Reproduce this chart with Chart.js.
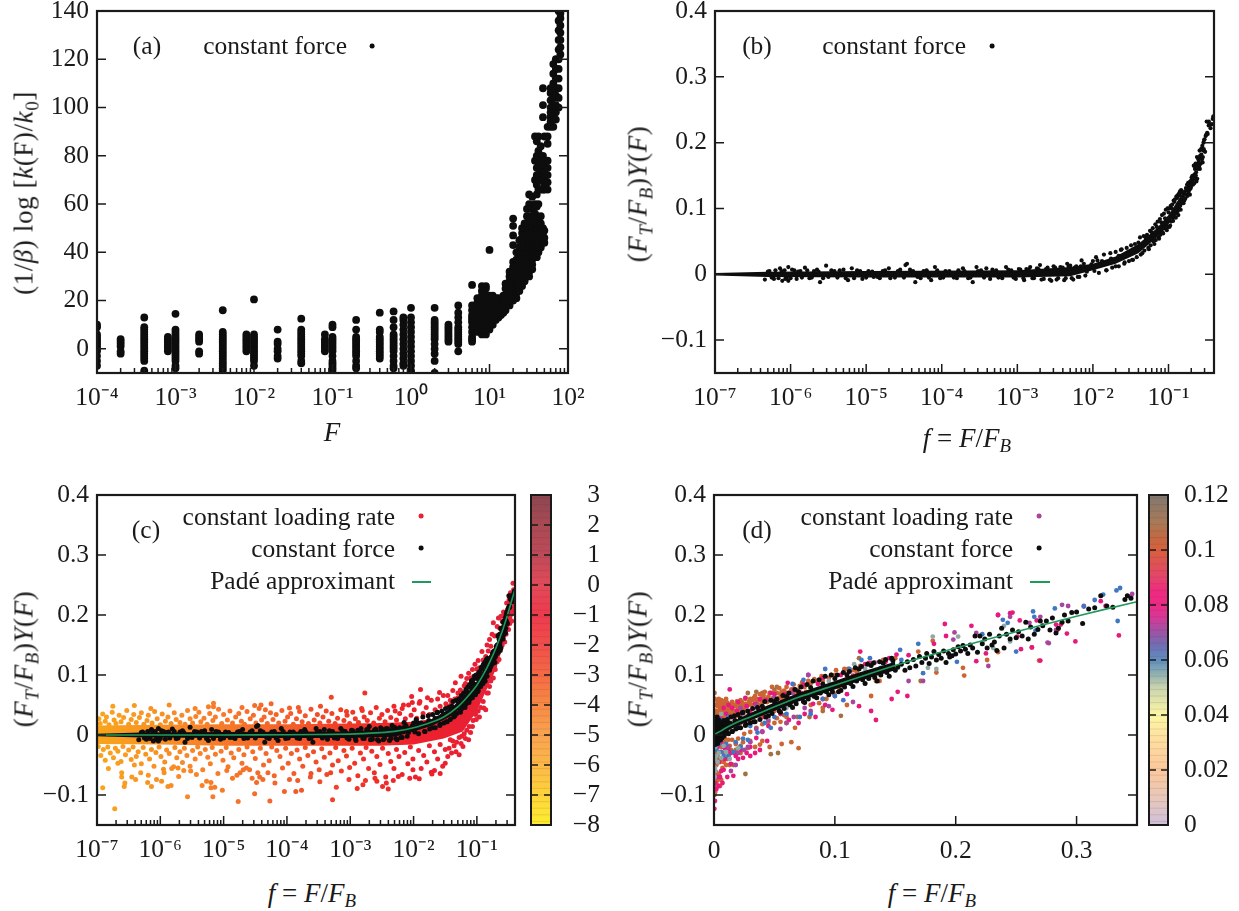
<!DOCTYPE html>
<html>
<head>
<meta charset="utf-8">
<title>force panels</title>
<script src="https://cdn.jsdelivr.net/npm/chart.js@4"></script>
<style>
  html, body { margin: 0; padding: 0; background: #fff; }
  #page { position: relative; width: 1239px; height: 911px; overflow: hidden; font-family: "Liberation Serif", serif; font-size: 25.5px; color: #1a1a1a; }
  canvas { position: absolute; }
  .lab { position: absolute; white-space: nowrap; line-height: 1; }
  .center { transform: translate(-50%, -50%); }
  .right { transform: translate(-100%, -50%); }
  .rot { transform: translate(-50%, -50%) rotate(-90deg); font-size: 27px; letter-spacing: 0.6px; }
  .big { font-size: 27px; }
  .lab sub { font-size: 70%; vertical-align: -0.3em; line-height: 0; }
  .dot { position: absolute; border-radius: 50%; transform: translate(-50%, -50%); }
  .dash { position: absolute; height: 2px; background: #1f9a5c; }
</style>
</head>
<body>
<div id="page"></div>
<script>
// panel (a): force values and the log rate values seen in each vertical strip
const aForce = [1e-4,2e-4,4e-4,8e-4,1e-3,2e-3,4e-3,8e-3,1e-2,2e-2,4e-2,8e-2,.1,.2,.4,.6,.8,1,2,3,4,6,7,8,9,10,11,12,13,14,15,16,18,20,22,24,26,28,30,32,35,38,40,42,45,48,50,55,60,65,70,76,80];
const aRate = [
  [-7,-5,-3,-1,0,1,2,3,4,5,6,9,10],
  [-2,-1,1,2,3,4],
  [-10,-9,-5,-4,-3,-2,-1,0,1,2,3,4,5,6,7,8,9,13],
  [-1,0,1,2,3,4,5],
  [-8,-7,-5,-4,-3,-2,-1,0,1,2,3,4,5,6,7,8,14.5],
  [-2,-1,3,4,5,6],
  [-9,-8,-7,-6,-5,-4,-3,-2,-1,0,1,2,3,4,5,6,7,16],
  [-1,0,1,2,3,4,5,6],
  [-7,-5,-4,-3,-2,-1,0,1,2,3,4,5,6,20.5],
  [-4,-3,-1,0,2,3,8],
  [-6,-5,-3,-2,-1,0,1,2,3,4,5,6,7,8,12.5],
  [-1,0,1,2,3,4,6],
  [-9,-8,-7,-6,-5,-3,-1,0,1,2,3,4,5,9,10],
  [-8,-7,-5,-3,-2,-1,0,1,2,3,4,5,8,12],
  [-4,-3,-2,-1,0,1,2,3,4,5,7,8,15],
  [-8,-7,-5,-3,-1,0,1,2,3,4,5,6,9,12,15.5],
  [-7,-6,-4,-2,0,2,4,6,8,10,12,13],
  [-10,-9,-7,-5,-3,-1,1,3,5,7,9,11,13,17],
  [-10,-5,-2,0,2,4,5,6,7,8,9,10,11,12,17],
  [3,4,5,6,7,8,9,10],
  [-1,2,3,4,5,6,7,8,9,11,13,15,18],
  [3,4,5,7,9,11,12,13,14,16,18,26.5],
  [7,9,11,13,15,17,19,21],
  [6,8,10,12,14,16,18,20,22,24,26],
  [6,8,10,12,14,16,18,20,22,25,26],
  [8,10,12,14,16,18,20,22,41],
  [10,12,14,16,18,20,22],
  [12,14,16,18,20,21],
  [13,15,17,19,21],
  [14,16,18,20],
  [15,17,19,21,22],
  [16,18,20,22,25,27],
  [18,20,22,24,26,28,30,32],
  [20,22,24,26,28,30,32,34,36,43,47,51,54],
  [21,23,25,27,29,31,33,35,37,40],
  [24,26,28,30,32,34,36,38,40,42,45],
  [26,28,30,32,34,36,38,40,42,44,46,48,50],
  [28,30,32,34,36,38,40,42,44,46,48,50,52],
  [30,32,34,36,38,40,42,44,46,48,50,52,55,58],
  [30,32,34,36,38,40,42,44,46,48,50,55,60,64],
  [33,35,37,39,41,43,45,47,49,51,53,55,58,63],
  [38,40,42,44,46,48,50,52,54,56,60,70,78,88],
  [38,40,42,44,46,48,50,52,55,59,64,68,72,75,80,86],
  [40,42,44,46,48,50,52,54,60,66,72,76,82,88],
  [42,44,46,48,50,52,55,66,70,74,78,84],
  [44,46,48,50,66,70,74,77,80,96,101,108],
  [44,46,49,66,68,70,72,74,76,78,88],
  [66,69,72,75,78,85,88,92],
  [92,94,96,98,100,103,106,108],
  [92,95,97,99,101,104,107,110,114,118],
  [95,98,101,105,108,112,116,120],
  [100,104,108,112,116,120,124,128,132,136,140],
  [122,125,128,131,134,137,139]
];
const aXRange = [1e-4, 100];
const aYTicks = [0,20,40,60,80,100,120,140];

// shared y ticks for (b), (c), (d)
const fYTicks = [-0.1,0,0.1,0.2,0.3,0.4];

// constant force data: log10(f) and y for the low part, then f and y for the rising part
const forceLowLog = [[-6.34,-.008],[-6.14,.009],[-6.03,.011],[-6.11,-.01],[-6.03,-.01],[-5.81,.01],[-5.69,.005],[-5.61,-.012],[-5.53,.013],[-5.24,-.009],[-5.19,.009],[-4.9,-.004],[-4.7,.009],[-4.48,.014],[-4.46,.016],[-4.35,-.012],[-4.14,-.009],[-4.09,.011],[-3.72,.009],[-3.59,-.012],[-3.54,.011],[-3.41,.009],[-3.15,.011],[-2.91,-.009],[-2.83,.011],[-2.55,-.01],[-2.7,.014],[-2.34,.016],[-2.18,-.004],[-2.15,.021],[-1.94,.021],[-1.63,.037],
[-6.3,.004],[-6.25,-.005],[-6.2,.006],[-6.16,-.006],[-6.08,.006],[-6.05,-.005],[-5.98,.007],[-5.92,-.007],[-5.87,.005],[-5.75,-.006],[-5.65,.007],[-5.57,-.006],[-5.46,.006],[-5.38,-.005],[-5.3,.007],[-5.12,.006],[-5.05,-.007],[-4.97,.005],[-4.82,-.006],[-4.75,.006],[-4.62,-.005],[-4.55,.007],[-4.42,.007],[-4.28,-.006],[-4.2,.006],[-4.02,-.006],[-3.95,.005],[-3.84,-.005],[-3.78,.006],[-3.65,-.006],[-3.48,.006],[-3.36,-.007],[-3.28,.006],[-3.2,-.006],[-3.08,.006],[-3.02,-.007],[-2.96,.007],[-2.88,.008],[-2.78,-.006],[-2.74,.009],[-2.65,-.007],[-2.6,.01],[-2.52,.012],[-2.48,-.008],[-2.43,.011],[-2.38,-.009],[-2.3,.013],[-2.26,-.008],[-2.22,.012],[-2.12,.016],[-2.08,.004],[-2.02,.015],[-1.98,.005],[-1.88,.02],[-1.82,.006],[-1.76,.024],[-1.7,.012],[-1.66,.028],[-1.58,.018],[-1.54,.033],[-1.48,.022],
[-6.28,.005],[-6.22,-.007],[-6.12,.005],[-6.07,-.007],[-6,-.006],[-5.95,.006],[-5.9,.004],[-5.85,-.005],[-5.78,.006],[-5.72,-.005],[-5.63,.004],[-5.5,-.004],[-5.42,.005],[-5.35,.006],[-5.27,-.006],[-5.16,-.006],[-5.08,.005],[-5,-.005],[-4.92,.004],[-4.85,-.004],[-4.78,.005],[-4.68,-.006],[-4.58,.005],[-4.5,-.005],[-4.38,.005],[-4.32,-.004],[-4.24,.005],[-4.17,-.005],[-4.06,.006],[-3.98,-.005],[-3.9,.005],[-3.8,-.006],[-3.7,.005],[-3.62,-.005],[-3.52,.005],[-3.44,-.005],[-3.33,.007],[-3.25,-.005],[-3.12,.007],[-3.05,-.005],[-2.98,.008],[-2.92,-.006],[-2.85,.007],[-2.8,-.006],[-2.72,.008],[-2.68,-.008],[-2.62,.008],[-2.57,-.008],[-2.5,.01],[-2.46,-.006],[-2.4,.01],[-2.36,-.006],[-2.32,.012],[-2.28,-.006],[-2.24,.01],[-2.2,-.004],[-2.16,.012],[-2.1,-.002]];
const forceHigh = [[.01,.02],[.011,.026],[.012,.002],[.014,.03],[.015,.006],[.017,.032],[.018,.01],[.02,.034],[.022,.012],[.024,.038],[.026,.016],[.028,.04],[.03,.02],[.032,.044],[.034,.022],[.036,.046],[.038,.026],[.042,.056],[.043,.03],[.047,.058],[.048,.036],[.052,.06],[.054,.04],[.057,.066],[.058,.044],[.062,.07],[.063,.05],[.067,.076],[.068,.052],[.072,.08],[.074,.056],[.077,.084],[.078,.06],[.082,.09],[.083,.064],[.087,.092],[.088,.07],[.092,.098],[.093,.072],[.097,.1],[.098,.072],[.102,.1],[.103,.072],[.107,.104],[.108,.08],[.112,.106],[.113,.086],[.117,.112],[.118,.09],[.122,.114],[.123,.092],[.127,.118],[.128,.094],[.132,.12],[.133,.096],[.137,.122],[.138,.1],[.142,.126],[.143,.104],[.147,.128],[.15,.108],
[.04,.048],[.045,.032],[.05,.056],[.055,.038],[.06,.064],[.065,.046],[.07,.072],[.075,.054],[.08,.079],[.085,.062],[.09,.085],[.095,.067],[.1,.094],[.105,.074],[.11,.1],[.115,.081],[.12,.11],[.125,.086],[.13,.116],[.135,.09],[.14,.12],[.145,.098],[.148,.124],
[.152,.113],[.155,.118],[.158,.108],[.16,.122],[.162,.112],[.165,.126],[.167,.115],[.17,.131],[.172,.121],[.175,.128],[.176,.136],[.178,.119],[.18,.13],[.182,.139],[.184,.125],[.186,.134],[.188,.128],[.19,.14],[.192,.121],[.194,.136],[.195,.13],[.197,.132],[.198,.142],[.2,.135],[.202,.147],[.204,.14],[.206,.149],[.208,.143],[.21,.136],[.212,.15],[.214,.145],[.216,.165],[.218,.138],[.22,.165],[.222,.152],[.224,.16],[.226,.145],[.228,.168],[.23,.15],[.232,.155],[.234,.141],[.236,.165],[.238,.178],[.24,.145],[.242,.168],[.245,.16],[.247,.175],[.25,.162],[.252,.172],[.255,.165],[.258,.188],[.26,.16],[.262,.18],[.265,.168],[.268,.176],[.27,.19],[.272,.182],[.275,.19],[.278,.175],[.28,.195],[.283,.17],[.285,.178],[.288,.188],[.29,.2],[.293,.19],[.296,.204],[.3,.205],[.305,.186],[.31,.21],[.315,.212],[.32,.232],[.325,.215],[.33,.213],[.34,.226],[.342,.232],[.345,.228],[.36,.222],[.375,.228],[.385,.236],[.392,.24]];
// black blob seen close to f = 0 in (d)
const forceNearZero = [[.0008,.02],[.0012,-.013],[.002,.022],[.003,-.014],[.004,.025],[.0015,.012],[.0006,-.009],[.005,.018],[.006,-.006],[.008,.024],[.009,.002],[.0025,.03],[.0005,.026],[.001,-.016]];
// dense core of the constant force cloud
const forceBandF = [1e-7,5e-7,1e-5,1e-3,5e-3,.01,.02,.04,.07,.1,.12,.15];
const forceBandUp = [.002,.004,.005,.006,.011,.016,.027,.046,.07,.09,.104,.122];
const forceBandLow = [-.002,-.004,-.005,-.005,-.003,.006,.016,.032,.056,.076,.09,.108];

// Pade approximant
const padeF = [1e-7,1e-5,1e-4,1e-3,3e-3,5e-3,.01,.02,.03,.05,.07,.1,.13,.16,.2,.25,.3,.35,.4];
const padeY = [0,.0001,.0003,.0015,.004,.006,.012,.022,.03,.047,.063,.083,.103,.122,.145,.172,.198,.222,.243];

// panel (c): constant loading rate, log10(f) and y
const loadCLog = [[-6.75,.048],[-6.41,.049],[-6.15,.044],[-5.86,.05],[-5.45,.044],[-5.24,.047],[-5.16,.053],[-5.16,.047],[-4.71,.046],[-4.51,.049],[-4.41,.05],[-4.34,.042],
[-6.91,-.088],[-6.72,-.123],[-6.82,-.056],[-6.67,-.047],[-6.61,-.063],[-6.61,-.07],[-6.45,-.07],[-6.39,-.074],[-6.56,-.08],[-6.57,-.086],[-6.31,-.063],[-6.41,-.05],[-6.2,-.079],[-6.14,-.086],[-6.19,-.067],[-6.06,-.074],[-5.98,-.077],[-5.95,-.057],[-5.94,-.063],[-5.88,-.086],[-5.83,-.084],[-5.79,-.053],[-5.71,-.069],[-5.72,-.055],[-5.63,-.059],[-5.57,-.103],[-5.52,-.06],[-5.43,-.066],[-5.34,-.084],[-5.27,-.077],[-5.2,-.079],[-5.2,-.088],[-5.14,-.087],[-5.02,-.092],[-5.17,-.103],[-4.77,-.111],[-4.51,-.098],[-4.55,-.072],[-4.43,-.07],[-4.48,-.079],[-4.38,-.074],[-4.95,-.059],[-4.86,-.072],[-4.74,-.063],[-4.69,-.058],[-4.64,-.055],[-4.3,-.063],
[-3.3,.063],[-2.77,.07],[-1.89,.076],[-1.59,.071],[-2.03,.064],[-2.16,.05],[-2.02,.054],[-1.78,.062],[-1.91,.053],[-3.47,.048],[-3.96,.045],[-3.82,.046],[-4.25,.052],[-3.06,.039],[-2.81,.041],[-2.29,.04],
[-4.04,-.094],[-3.86,-.094],[-3.77,-.092],[-3.22,-.087],[-2.89,-.089],[-2.8,-.083],[-2.76,-.076],[-2.4,-.09],[-2.49,-.086],[-2.43,-.08],[-2.32,-.076],[-2.61,-.072],[-2.58,-.077],[-3.02,-.074],[-3.48,-.078],[-3.31,-.063],[-3.62,-.064],[-3.96,-.074],[-3.83,-.076],[-4.19,-.08],[-2.06,-.072],[-1.91,-.073],[-2.24,-.069],[-2.01,-.058],[-1.72,-.062],[-1.67,-.059],[-1.58,-.064],[-1.5,-.047],
[-4.27,-.11],[-3.28,-.108],
// upper part of the cloud
[-6.97,.027],[-6.95,.019],[-6.91,.035],[-6.87,.023],[-6.85,.03],[-6.81,.017],[-6.76,.038],[-6.73,.025],[-6.7,.019],[-6.65,.033],[-6.62,.022],[-6.58,.029],[-6.53,.041],[-6.5,.018],[-6.46,.026],[-6.42,.034],[-6.38,.021],[-6.33,.029],[-6.3,.037],[-6.26,.018],[-6.21,.024],[-6.19,.033],[-6.13,.02],[-6.09,.039],[-6.05,.027],[-6,.017],[-5.97,.035],[-5.92,.023],[-5.88,.03],[-5.83,.019],[-5.78,.037],[-5.75,.026],[-5.69,.021],[-5.66,.033],[-5.61,.018],[-5.57,.041],[-5.53,.027],[-5.49,.02],[-5.44,.031],[-5.39,.038],[-5.36,.022],[-5.31,.028],[-5.26,.018],[-5.22,.036],[-5.17,.024],[-5.13,.03],[-5.08,.043],[-5.03,.019],[-5,.034],[-4.94,.025],[-4.9,.04],[-4.86,.02],[-4.81,.03],[-4.76,.036],[-4.72,.023],[-4.67,.018],[-4.63,.039],[-4.58,.027],[-4.53,.033],[-4.49,.02],[-4.44,.044],[-4.4,.025],[-4.36,.03],[-4.31,.019],[-4.26,.037],[-4.22,.026],[-4.17,.034],[-4.13,.02],[-4.08,.041],[-4.03,.023],[-3.99,.03],[-3.94,.036],[-3.9,.018],[-3.85,.027],[-3.8,.039],[-3.76,.022],[-3.71,.032],[-3.66,.019],[-3.62,.043],[-3.57,.025],[-3.52,.034],[-3.48,.02],[-3.43,.03],[-3.38,.04],[-3.34,.023],[-3.29,.036],[-3.24,.019],[-3.2,.028],[-3.15,.042],[-3.1,.024],[-3.05,.033],[-3.01,.019],[-2.96,.038],[-2.92,.027],[-2.87,.021],[-2.82,.044],[-2.78,.03],[-2.73,.024],[-2.68,.037],[-2.63,.02],[-2.59,.046],[-2.54,.028],[-2.5,.034],[-2.45,.022],[-2.41,.041],[-2.36,.029],[-2.31,.048],[-2.27,.025],[-2.22,.036],[-2.18,.044],[-2.13,.027],[-2.08,.05],[-2.04,.033],[-1.99,.042],[-1.95,.028],[-1.9,.056],[-1.85,.036],[-1.8,.046],[-1.75,.034],[-1.72,.058],[-1.66,.042],[-1.62,.06],[-1.58,.048],[-1.53,.066],[-1.49,.052],
// lower part of the cloud
[-6.98,-.019],[-6.94,-.034],[-6.9,-.024],[-6.87,-.042],[-6.83,-.02],[-6.79,-.03],[-6.74,-.038],[-6.71,-.022],[-6.67,-.027],[-6.62,-.044],[-6.59,-.019],[-6.55,-.033],[-6.5,-.025],[-6.46,-.041],[-6.43,-.02],[-6.38,-.036],[-6.35,-.028],[-6.3,-.048],[-6.27,-.021],[-6.23,-.032],[-6.17,-.04],[-6.14,-.024],[-6.1,-.052],[-6.07,-.029],[-6.02,-.02],[-5.99,-.036],[-5.93,-.045],[-5.9,-.025],[-5.86,-.031],[-5.82,-.056],[-5.77,-.021],[-5.74,-.038],[-5.69,-.028],[-5.65,-.046],[-5.62,-.022],[-5.58,-.034],[-5.53,-.052],[-5.49,-.026],[-5.45,-.04],[-5.41,-.02],[-5.37,-.031],[-5.33,-.058],[-5.29,-.024],[-5.25,-.037],[-5.21,-.048],[-5.18,-.021],[-5.13,-.032],[-5.09,-.064],[-5.04,-.027],[-5.01,-.042],[-4.96,-.021],[-4.93,-.053],[-4.88,-.03],[-4.84,-.038],[-4.79,-.067],[-4.76,-.024],[-4.71,-.047],[-4.68,-.033],[-4.63,-.02],[-4.59,-.058],[-4.54,-.028],[-4.5,-.039],[-4.46,-.063],[-4.42,-.022],[-4.37,-.05],[-4.33,-.031],[-4.28,-.043],[-4.24,-.02],[-4.2,-.068],[-4.16,-.026],[-4.11,-.036],[-4.07,-.055],[-4.02,-.022],[-3.98,-.047],[-3.93,-.031],[-3.89,-.064],[-3.84,-.025],[-3.8,-.04],[-3.75,-.052],[-3.71,-.021],[-3.67,-.034],[-3.63,-.07],[-3.58,-.028],[-3.54,-.045],[-3.49,-.058],[-3.45,-.023],[-3.41,-.037],[-3.37,-.066],[-3.32,-.03],[-3.28,-.05],[-3.23,-.021],[-3.19,-.043],[-3.14,-.06],[-3.1,-.026],[-3.06,-.035],[-3.01,-.054],[-2.97,-.022],[-2.93,-.047],[-2.88,-.068],[-2.84,-.03],[-2.79,-.04],[-2.75,-.021],[-2.71,-.056],[-2.66,-.027],[-2.62,-.063],[-2.58,-.036],[-2.53,-.049],[-2.49,-.022],[-2.44,-.07],[-2.4,-.031],[-2.36,-.044],[-2.31,-.056],[-2.27,-.024],[-2.23,-.036],[-2.18,-.066],[-2.14,-.029],[-2.09,-.048],[-2.05,-.02],[-2.01,-.04],[-1.97,-.07],[-1.92,-.026],[-1.88,-.056],[-1.84,-.034],[-1.79,-.045],[-1.75,-.018],[-1.71,-.065],[-1.67,-.028],[-1.62,-.04],[-1.58,-.016],[-1.54,-.052],[-1.5,-.024],[-1.46,-.036],
// rising part
[-1.46,.066],[-1.42,.058],[-1.38,.074],[-1.34,.087],[-1.3,.07],[-1.25,.098],[-1.2,.082],[-1.16,.094],[-1.13,.103],[-1.07,.109],[-1.03,.118],[-.98,.124],[-.92,.139],[-.86,.131],[-.84,.15],[-.8,.159],[-.76,.168],[-.74,.187],[-.68,.181],[-.66,.195],[-.62,.198],[-.58,.205],[-.53,.22],[-.49,.226],[-.47,.237],[-.43,.253],[-.42,.232],[-.44,.203],
[-1.44,-.022],[-1.4,-.03],[-1.36,-.018],[-1.33,-.028],[-1.28,-.033],[-1.25,-.014],[-1.22,-.019],[-1.18,-.006],[-1.13,-.008],[-1.1,.004],[-1.07,.014],[-1.01,.026],[-.96,.03],[-.89,.045],[-.86,.042],[-.82,.07],[-.8,.081],[-.74,.095],[-.71,.109],[-.65,.126],[-.62,.148],[-.56,.155],[-.5,.176],[-.45,.19],
[-1.44,.048],[-1.4,.052],[-1.35,.06],[-1.3,.062],[-1.26,.075],[-1.22,.07],[-1.18,.086],[-1.14,.08],[-1.1,.095],[-1.05,.098],[-1,.11],[-.96,.112],[-.9,.125],[-.86,.118],[-.82,.14],[-.78,.148],[-.72,.165],[-.68,.166],[-.64,.178],[-.6,.19],[-.56,.2],[-.52,.208],[-.46,.222],[-.42,.242],
[-1.42,-.008],[-1.38,-.01],[-1.32,-.012],[-1.28,-.004],[-1.24,-.002],[-1.2,.002],[-1.16,.008],[-1.12,.014],[-1.06,.024],[-1.02,.034],[-.98,.04],[-.94,.046],[-.9,.056],[-.84,.07],[-.78,.09],[-.72,.115],[-.68,.122],[-.6,.15],[-.54,.168],[-.48,.186],[-.42,.205]];
// dense core of the constant loading rate cloud
const loadBandF = [1e-7,1e-6,1e-5,1e-4,1e-3,3e-3,1e-2,3e-2,6e-2,.1,.2,.3,.4];
const loadBandUp = [.016,.017,.018,.018,.019,.02,.022,.03,.048,.08,.15,.205,.24];
const loadBandLow = [-.015,-.016,-.018,-.018,-.018,-.018,-.016,-.006,.006,.04,.11,.17,.21];
const cYColorTicks = [-8,-7,-6,-5,-4,-3,-2,-1,0,1,2,3];

// panel (d): constant loading rate, f and y per colour group
const dRates = [.1,.082,.07,.062,.055,.108];
const dPoints = [
  // .1
  [[.181,.157],[.235,.138],[.226,.125],[.206,.112],[.207,.099],[.263,.146],[.184,.104],[.134,.09],[.137,.09],[.169,.139],[.269,.124],[.121,.115],[.118,.105],[.111,.11],[.104,.078],[.099,.07],[.093,.06],[.087,.053],[.101,.108],[.108,.109],[.097,.1],[.089,.098],[.083,.093],[.078,.09],[.073,.088],[.066,.084],[.06,.08],[.054,.078],[.048,.08],[.042,.072],[.038,.068],[.034,.065],[.03,.06],[.026,.052],[.022,.05],[.019,.056],[.016,.048],[.013,.05],[.01,.05],[.007,.05],[.005,.045],[.003,.048],[.002,.04],[.001,.036],[.004,.035],[.008,.038],[.012,.042],[.017,.04],[.021,.04],[.025,.042],[.031,.05],[.036,.056],[.04,.062],[.045,.064],[.05,.07],[.056,.072],[.062,.07],[.069,.075],[.076,.072],[.052,.028],[.06,.02],[.067,.012],[.056,-.015],[.064,-.012],[.07,-.022],[.046,-.02],[.038,-.016],[.03,-.01],[.024,-.012],[.018,-.015],[.013,-.018],[.009,-.012],[.006,-.02],[.004,-.028],[.008,-.03],[.012,-.035],[.005,-.045],[.007,-.055],[.01,-.05],[.004,-.065],[.006,-.075],[.002,-.05],[.002,-.08],[.001,-.095],[.001,-.06],[.0007,-.03],[.0005,-.02],[.0005,.05],[.0007,.04],[.0005,.06],[.015,.02],[.022,.02],[.03,.025],[.04,.03],[.05,.04],[.08,.05],[.09,.045],[.11,.05],[.13,.065],
  [.003,.055],[.005,.052],[.006,.04],[.009,.043],[.011,.054],[.014,.044],[.015,.038],[.018,.048],[.02,.045],[.023,.055],[.024,.048],[.027,.048],[.029,.055],[.032,.058],[.035,.06],[.037,.05],[.039,.058],[.041,.066],[.043,.06],[.046,.07],[.049,.062],[.052,.07],[.055,.068],[.058,.074],[.061,.064],[.064,.076],[.067,.07],[.071,.082],[.075,.08],[.08,.086],[.085,.09],[.09,.09],[.095,.095],[.1,.1],[.11,.102],[.115,.108],[.13,.12],[.14,.125],[.15,.128],[.003,.03],[.006,.03],[.008,.028],[.011,.032],[.013,.035],[.002,.025],[.004,.02],[.006,.012],[.009,-.005],[.012,-.008],[.015,-.008],[.02,-.006],[.025,.002],[.03,.005],[.035,.012],[.04,.018],[.045,.022],[.05,.02],[.055,.022],[.06,.03],[.003,-.012],[.005,-.01],[.007,-.014],[.01,-.024],[.014,-.025],[.018,-.028],[.022,-.03],[.028,-.022],[.034,-.02],[.04,-.01],[.011,-.04],[.008,-.045],[.003,-.035],[.013,-.05],[.002,-.062],[.003,-.075],[.005,-.085],[.0008,-.05],[.0006,-.07],[.0009,-.08],
  [.004,.06],[.006,.058],[.008,.056],[.01,.06],[.012,.047],[.015,.055],[.017,.05],[.02,.052],[.022,.058],[.026,.06],[.028,.05],[.03,.052],[.033,.062],[.036,.048],[.04,.054],[.044,.055],[.047,.058],[.051,.055],[.054,.062],[.057,.062],[.06,.07],[.065,.072],[.07,.068],[.004,.04],[.007,.035],[.01,.04],[.013,.03],[.016,.036],[.02,.032],[.024,.036]],
  // .082
  [[.121,.139],[.128,.12],[.191,.185],[.192,.165],[.182,.152],[.161,.133],[.151,.134],[.145,.128],[.235,.2],[.247,.204],[.213,.182],[.217,.123],[.225,.136],[.254,.143],[.251,.164],[.253,.191],[.27,.124],[.263,.146],[.284,.175],[.267,.191],[.335,.166],[.299,.156],[.32,.223],[.324,.215],[.292,.169],[.283,.184],[.287,.184],[.245,.203],[.235,.2],[.013,.076],[.026,.062],[.043,.058],[.05,.05],[.061,.087],[.078,.1],[.09,.095],[.105,.1],[.115,.099],[.125,.118],[.134,.108],[.142,.122],[.147,.06],[.152,.072],[.16,.065],[.13,.04],[.134,.025],[.12,.048],[.098,.042],[.092,.05],[.084,.03],[.075,.035],[.07,.02],[.062,.025],[.055,.035],[.045,.015],[.04,.006],[.035,-.005],[.03,-.02],[.034,-.03],[.027,-.03],[.022,-.025],[.017,-.03],[.02,-.04],[.012,-.027],[.009,-.04],[.011,-.07],[.016,-.068],[.006,-.06],[.004,-.045],[.007,-.08],[.003,-.07],[.002,-.09],[.0008,-.11],[.0003,-.123],[.003,-.02],[.006,.02],[.01,.035],[.015,.045],[.019,.04],[.027,.048],[.034,.052],[.038,.06],[.047,.07],[.056,.055],[.064,.06],[.072,.07],[.086,.085],[.098,.08],[.11,.068],
  [.005,.03],[.008,.045],[.012,.05],[.016,.03],[.02,.055],[.024,.034],[.03,.04],[.036,.045],[.042,.03],[.05,.068],[.058,.068],[.066,.076],[.074,.084],[.082,.052],[.09,.06],[.1,.065],[.003,-.005],[.006,-.014],[.009,-.022],[.014,-.03],[.018,-.035],[.024,-.038],[.03,-.035],[.038,-.025],[.044,-.01],[.014,-.048],[.008,-.058],[.005,-.07],[.004,-.085],[.001,-.08],[.0015,-.07],[.0012,-.045],[.0008,-.035],[.0006,-.09]],
  // .07
  [[.199,.171],[.198,.159],[.27,.197],[.261,.187],[.217,.17],[.277,.153],[.227,.115],[.161,.09],[.173,.09],[.133,.121],[.245,.197],[.283,.175],[.345,.231],[.346,.235],[.288,.217],[.293,.215],[.276,.154],[.306,.215],[.078,.1],[.065,.07],[.05,.062],[.035,.05],[.022,.045],[.06,.02],[.066,.03],[.08,.04],[.095,.048],[.115,.055],[.04,.005],[.028,-.02],[.02,-.03],[.012,-.02],[.018,-.05],[.03,-.012],[.014,-.06],[.025,-.025],[.035,.01],[.055,.01],[.045,.025],[.075,.045]],
  // .062
  [[.282,.211],[.264,.206],[.265,.197],[.239,.192],[.243,.187],[.266,.174],[.25,.139],[.222,.168],[.201,.122],[.173,.103],[.169,.152],[.154,.142],[.129,.128],[.336,.245],[.333,.241],[.322,.234],[.315,.225],[.334,.19],[.306,.214],[.122,.125],[.112,.11],[.107,.058],[.1,.065],[.09,.06],[.08,.035],[.071,.03],[.058,.05],[.05,.03],[.042,.02],[.03,.015],[.02,.018],[.012,.03],[.006,.025],[.01,-.015],[.018,-.012],[.024,-.006],[.016,-.028],[.008,-.035],[.004,-.015],[.065,.085],[.074,.092],[.092,.11],[.118,.095],[.138,.112],[.148,.118],[.155,.125],[.022,-.02],[.028,-.008],[.036,.004],[.047,.012],[.06,.035],[.012,-.035],[.006,-.028],[.002,-.025]],
  // .055
  [[.24,.182],[.181,.164],[.231,.145],[.202,.164],[.184,.11],[.177,.112],[.245,.156],[.125,.11],[.116,.118],[.095,.09],[.06,.045],[.045,.03],[.025,.03],[.015,.02],[.006,.035],[.003,.012],[.001,.02],[.002,-.01],[.004,-.03],[.006,-.038],[.01,-.028],[.013,-.04],[.02,-.022],[.002,-.035],[.001,-.06],[.001,-.02],[.012,.01],[.07,.062],[.0005,.01],[.0006,-.01],[.0007,-.04],[.0008,-.055],[.0006,-.07],[.0005,.03],[.008,-.018],[.003,-.045]],
  // .108
  [[.12,.128],[.108,.11],[.171,.09],[.105,.032],[.079,.03],[.069,.03],[.05,.075],[.028,.07],[.052,.08],[.035,.072],[.04,.07],[.0004,.07],[.018,-.025],[.022,-.018],[.016,-.05],[.026,-.065],[.01,-.02],[.016,.03],[.009,.055],[.058,.033],[.053,-.03],[.047,-.032],[.006,-.042],[.003,-.04],[.09,.04],[.0004,.06],[.0005,.04],[.0004,-.1],[.0005,-.085],[.002,-.07]]
];
const dXTicks = [0,.1,.2,.3];
const dColorTicks = [0,.02,.04,.06,.08,.1,.12];

// colours
const pointColors = ["#cc6433","#e8197d","#a8459f","#3f78c2","#8fa9a6","#a5703f"];
const cPointExp = [-7,-5.5,-4,-3,-2,-1,-0.4];
const cPointCol = [[249,165,28],[248,134,40],[244,96,42],[240,56,38],[238,32,44],[232,32,52],[226,36,60]];
const cBarVals = [-8,-7,-6,-5,-4,-3,-2,-1,0,1,2,3];
const cBarCols = ["#fdee30","#fed43a","#fbb848","#f9a34f","#f78a45","#f46a45","#ef4f4c","#ee3a4c","#e24a5a","#bd4a58","#a84a54","#8c4750"];
const dBarVals = [0,.01,.02,.03,.04,.05,.055,.06,.065,.07,.075,.08,.085,.09,.1,.105,.11,.12];
const dBarCols = ["#cfc0dc","#e8c8ba","#fbc89c","#fedca0","#fcf7a4","#c9d3b0","#8fb0b0","#5f8fc0","#6f70b5","#9a55a5","#d23b9a","#ee2a86","#ee2a80","#e4456c","#d8603d","#c06a45","#a87a58","#807870"];

const FONT = {family: "Liberation Serif", size: 25.5};
const INK = "#1a1a1a";
const SUP = {"-":"\u207B","0":"\u2070","1":"\u00B9","2":"\u00B2","3":"\u00B3","4":"\u2074","5":"\u2075","6":"\u2076","7":"\u2077","8":"\u2078","9":"\u2079"};
const page = document.getElementById("page");

function pts(xs, ys) { return xs.map((x, i) => ({x: x, y: ys[i]})); }
function fromLog(list) { return list.map(p => ({x: Math.pow(10, p[0]), y: p[1]})); }
function fromPairs(list) { return list.map(p => ({x: p[0], y: p[1]})); }
function fmt(v) { return String(v).replace("-", "\u2212"); }

function logTicks(min, max) {
  let out = [];
  for (let e = Math.round(Math.log10(min)); e <= Math.log10(max); e++) {
    for (let m = 1; m <= 9; m++) {
      let v = m * Math.pow(10, e);
      if (v <= max * 1.001) out.push({value: v});
    }
  }
  return out;
}
function logLabel(v) {
  let e = Math.log10(v);
  if (Math.abs(e - Math.round(e)) > 1e-6) return "";
  return "10" + String(Math.round(e)).split("").map(c => SUP[c]).join("");
}

// inward ticks and the frame, gnuplot style
const framePlugin = {
  id: "frame",
  afterDatasetsDraw(chart) {
    const c = chart.ctx, a = chart.chartArea;
    c.save();
    c.strokeStyle = INK;
    c.lineWidth = 1.5;
    c.beginPath();
    chart.scales.x.ticks.forEach(t => {
      let px = chart.scales.x.getPixelForValue(t.value);
      let len = t.label === "" ? 5 : 9;
      c.moveTo(px, a.bottom);
      c.lineTo(px, a.bottom - len);
    });
    chart.scales.y.ticks.forEach(t => {
      let py = chart.scales.y.getPixelForValue(t.value);
      c.moveTo(a.left, py);
      c.lineTo(a.left + 9, py);
      c.moveTo(a.right, py);
      c.lineTo(a.right - 9, py);
    });
    c.stroke();
    c.lineWidth = 2.2;
    c.strokeRect(a.left, a.top, a.right - a.left, a.bottom - a.top);
    c.restore();
  }
};

function makeCanvas(l, t, w, h) {
  let cv = document.createElement("canvas");
  cv.width = w; cv.height = h;
  cv.style.left = l + "px"; cv.style.top = t + "px";
  cv.style.width = w + "px"; cv.style.height = h + "px";
  page.appendChild(cv);
  return cv.getContext("2d");
}

function panel(box, xAxis, yTicks, yMin, yMax, datasets) {
  // box is the plot rectangle, canvas goes a bit around it
  let cl = box.cl, ct = box.t - 11;
  let ctx = makeCanvas(cl, ct, box.cw, box.b + 50 - ct);
  return new Chart(ctx, {
    type: "line",
    data: {datasets: datasets},
    plugins: [framePlugin],
    options: {
      responsive: false,
      animation: false,
      events: [],
      layout: {padding: {top: 11, right: box.cw - (box.r - cl), left: 0, bottom: 0}},
      plugins: {legend: {display: false}, tooltip: {enabled: false}},
      scales: {
        x: Object.assign({
          grid: {display: false, drawTicks: false},
          border: {display: false},
          afterFit(s) { s.height = 50; }
        }, xAxis),
        y: {
          type: "linear", min: yMin, max: yMax,
          grid: {display: false, drawTicks: false},
          border: {display: false},
          afterBuildTicks(s) { s.ticks = yTicks.map(v => ({value: v})); },
          afterFit(s) { s.width = box.l - cl; s.paddingTop = 0; s.paddingBottom = 0; },
          ticks: {font: FONT, color: INK, padding: 8, autoSkip: false, callback: v => fmt(v)}
        }
      }
    }
  });
}

function logAxis(min, max) {
  return {
    type: "logarithmic", min: min, max: max,
    afterBuildTicks(s) { s.ticks = logTicks(min, max); },
    ticks: {font: FONT, color: INK, padding: 10, autoSkip: false, maxRotation: 0, minRotation: 0, callback: v => logLabel(v)}
  };
}

function colorbar(box, vals, cols, ticks, crossAlign, pad) {
  let ctx = makeCanvas(box.l, box.t - 15, box.cw, box.b - box.t + 35);
  return new Chart(ctx, {
    type: "bar",
    data: {
      labels: ["rate"],
      datasets: [{
        data: [[vals[0], vals[vals.length - 1]]],
        barPercentage: 1, categoryPercentage: 1, borderSkipped: false, borderWidth: 0,
        backgroundColor(c) {
          let a = c.chart.chartArea;
          if (!a) return cols[0];
          let g = c.chart.ctx.createLinearGradient(0, a.bottom, 0, a.top);
          vals.forEach((v, i) => g.addColorStop((v - vals[0]) / (vals[vals.length - 1] - vals[0]), cols[i]));
          return g;
        }
      }]
    },
    plugins: [{
      id: "barFrame",
      afterDatasetsDraw(chart) {
        const c = chart.ctx, a = chart.chartArea;
        c.save();
        // faint stripes like the target's palette bands
        c.strokeStyle = "rgba(90,40,40,0.12)";
        c.lineWidth = 1;
        c.beginPath();
        for (let y = a.top + 3; y < a.bottom; y += 6.6) {
          c.moveTo(a.left, y); c.lineTo(a.right, y);
        }
        c.stroke();
        c.strokeStyle = INK;
        c.lineWidth = 1.5;
        c.beginPath();
        chart.scales.y.ticks.forEach(t => {
          let py = chart.scales.y.getPixelForValue(t.value);
          c.moveTo(a.left, py); c.lineTo(a.left + 8, py);
          c.moveTo(a.right, py); c.lineTo(a.right - 8, py);
        });
        c.stroke();
        c.lineWidth = 2;
        c.strokeRect(a.left + 1, a.top, a.right - a.left - 2, a.bottom - a.top);
        c.restore();
      }
    }],
    options: {
      responsive: false,
      animation: false,
      events: [],
      layout: {padding: {top: 15, bottom: 20, left: 0, right: 0}},
      plugins: {legend: {display: false}, tooltip: {enabled: false}},
      scales: {
        x: {display: false},
        y: {
          position: "right", type: "linear",
          min: vals[0], max: vals[vals.length - 1],
          grid: {display: false, drawTicks: false},
          border: {display: false},
          afterBuildTicks(s) { s.ticks = ticks.map(v => ({value: v})); },
          afterFit(s) { s.width = box.cw - (box.r - box.l); s.paddingTop = 0; s.paddingBottom = 0; },
          ticks: {font: FONT, color: INK, padding: pad, autoSkip: false, crossAlign: crossAlign, callback: v => fmt(v)}
        }
      }
    }
  });
}

function scatterSet(data, color, radius, order) {
  return {data: data, showLine: false, pointRadius: radius, pointBackgroundColor: color, pointBorderWidth: 0, order: order};
}
function bandSets(xs, up, low, color, order) {
  return [
    {data: pts(xs, up), borderWidth: 0, pointRadius: 0, tension: 0, fill: "+1", backgroundColor: color, order: order},
    {data: pts(xs, low), borderWidth: 0, pointRadius: 0, tension: 0, fill: false, order: order}
  ];
}
function padeSet() {
  return {data: pts(padeF, padeY), borderColor: "#1f9a5c", borderWidth: 1.6, pointRadius: 0, tension: 0.2, fill: false, order: 0};
}

function colorForExp(e) {
  let i = 0;
  while (i < cPointExp.length - 2 && e > cPointExp[i + 1]) i++;
  let t = Math.min(1, Math.max(0, (e - cPointExp[i]) / (cPointExp[i + 1] - cPointExp[i])));
  let a = cPointCol[i], b = cPointCol[i + 1];
  return "rgb(" + a.map((v, k) => Math.round(v + (b[k] - v) * t)).join(",") + ")";
}
function loadBandColor(c) {
  let a = c.chart.chartArea;
  if (!a) return "#f08030";
  let g = c.chart.ctx.createLinearGradient(a.left, 0, a.right, 0);
  let span = 6.6;
  cPointExp.forEach(e => g.addColorStop(Math.min(1, (e + 7) / span), colorForExp(e)));
  return g;
}

const forceAll = fromLog(forceLowLog).concat(fromPairs(forceHigh));

// (a)
let aData = [];
aForce.forEach((f, i) => aRate[i].forEach(v => aData.push({x: f, y: v})));
panel({cl: 0, cw: 600, l: 97, r: 568, t: 11, b: 373}, logAxis(aXRange[0], aXRange[1]), aYTicks, -10, 140,
  [scatterSet(aData, "#0d0d0d", 3.9, 1)]);

// (b)
panel({cl: 620, cw: 619, l: 715, r: 1214, t: 11, b: 373}, logAxis(1e-7, 0.4), fYTicks, -0.15, 0.4,
  [scatterSet(forceAll, "#0d0d0d", 2.1, 1)].concat(bandSets(forceBandF, forceBandUp, forceBandLow, "#0d0d0d", 2)));

// (c)
panel({cl: 0, cw: 525, l: 97, r: 520, t: 495, b: 825}, logAxis(1e-7, 0.4), fYTicks, -0.15, 0.4,
  [padeSet(), scatterSet(forceAll, "#0d0d0d", 2.5, 1)]
    .concat(bandSets(forceBandF, forceBandUp, forceBandLow, "#0d0d0d", 2))
    .concat([{data: fromLog(loadCLog), showLine: false, pointRadius: 2.5, pointBorderWidth: 0, order: 3,
      pointBackgroundColor: c => c.raw ? colorForExp(Math.log10(c.raw.x)) : "#f08030"}])
    .concat(bandSets(loadBandF, loadBandUp, loadBandLow, loadBandColor, 4)));

// (d)
panel({cl: 620, cw: 525, l: 714, r: 1137, t: 495, b: 825},
  {
    type: "linear", min: 0, max: 0.35,
    afterBuildTicks(s) { s.ticks = dXTicks.map(v => ({value: v})); },
    ticks: {font: FONT, color: INK, padding: 11, autoSkip: false, maxRotation: 0, minRotation: 0, callback: v => fmt(v)}
  }, fYTicks, -0.15, 0.4,
  [padeSet(), scatterSet(forceAll.concat(fromPairs(forceNearZero)), "#0d0d0d", 2.5, 1)]
    .concat(bandSets(forceBandF, forceBandUp, forceBandLow, "#0d0d0d", 2))
    .concat(dPoints.map((list, i) => scatterSet(fromPairs(list), pointColors[i], 2.4, 3 + dRates[i]))));

// colour bars
colorbar({l: 530, r: 552, t: 495, b: 825, cw: 70}, cBarVals, cBarCols, cYColorTicks, "far", 0);
colorbar({l: 1148, r: 1169, t: 495, b: 825, cw: 91}, dBarVals, dBarCols, dColorTicks, "near", 15);

// texts
function label(html, x, y, cls) {
  let d = document.createElement("div");
  d.className = "lab " + cls;
  d.innerHTML = html;
  d.style.left = x + "px"; d.style.top = y + "px";
  page.appendChild(d);
}
function dot(x, y, r, color) {
  let d = document.createElement("div");
  d.className = "dot";
  d.style.left = x + "px"; d.style.top = y + "px";
  d.style.width = d.style.height = 2 * r + "px";
  d.style.background = color;
  page.appendChild(d);
}
function dash(x1, x2, y) {
  let d = document.createElement("div");
  d.className = "dash";
  d.style.left = x1 + "px"; d.style.top = y + "px"; d.style.width = (x2 - x1) + "px";
  page.appendChild(d);
}
const fTitle = "<i>f</i> = <i>F</i>/<i>F<sub>B</sub></i>";
const yTitle = "(<i>F<sub>T</sub></i>/<i>F<sub>B</sub></i>)<i>Y</i>(<i>F</i>)";

label("(1/<i>&beta;</i>) log [<i>k</i>(F)/<i>k</i><sub>0</sub>]", 24, 193, "rot");
label(yTitle, 638, 194, "rot");
label(yTitle, 24, 659, "rot");
label(yTitle, 638, 659, "rot");
label("<i>F</i>", 332, 432, "center big");
label(fTitle, 967, 438, "center big");
label(fTitle, 312, 893, "center big");
label(fTitle, 932, 893, "center big");

label("(a)", 147, 46, "center");
label("constant force", 347, 46, "right");
dot(372, 46, 2.4, "#0d0d0d");
label("(b)", 757, 46, "center");
label("constant force", 966, 46, "right");
dot(992, 46, 2.4, "#0d0d0d");

label("(c)", 146, 530, "center");
label("constant loading rate", 395, 517, "right");
dot(421, 516, 2.4, "#ee2030");
label("constant force", 395, 549, "right");
dot(421, 548, 2.4, "#0d0d0d");
label("Pad&eacute; approximant", 395, 581, "right");
dash(412, 431, 581);

label("(d)", 757, 530, "center");
label("constant loading rate", 1013, 517, "right");
dot(1039, 516, 2.4, "#a8459f");
label("constant force", 1013, 549, "right");
dot(1039, 548, 2.4, "#0d0d0d");
label("Pad&eacute; approximant", 1013, 581, "right");
dash(1030, 1050, 581);
</script>
</body>
</html>
